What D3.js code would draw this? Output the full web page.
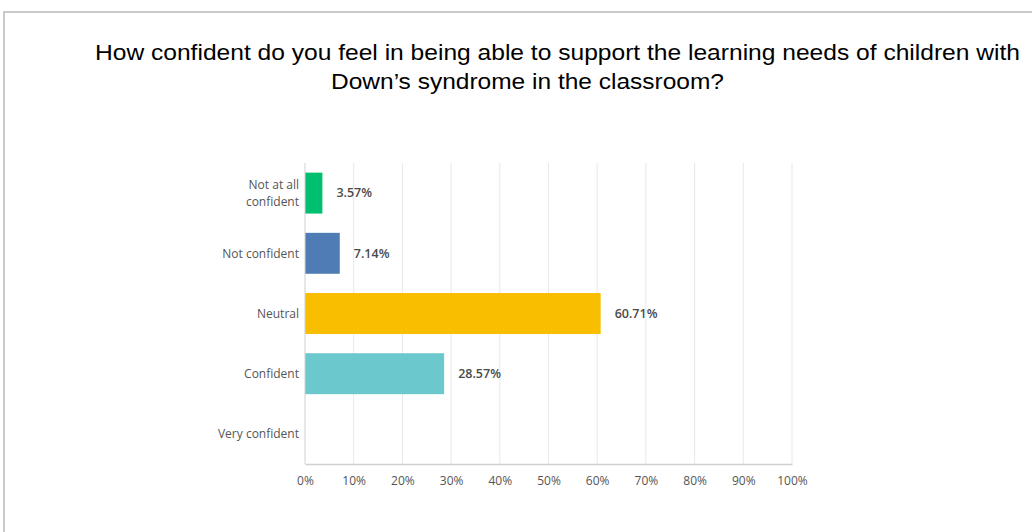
<!DOCTYPE html>
<html>
<head>
<meta charset="utf-8">
<script src="https://cdn.jsdelivr.net/npm/d3@7"></script>
<style>
  html, body { margin: 0; padding: 0; background: #fff; }
  svg { display: block; }
</style>
</head>
<body>
<svg id="chart" width="1032" height="532"></svg>
<script>
// Survey responses (percent of respondents)
const categories = ["Not at all confident", "Not confident", "Neutral", "Confident", "Very confident"];
const categoryLines = [["Not at all", "confident"], ["Not confident"], ["Neutral"], ["Confident"], ["Very confident"]];
const values = [3.57, 7.14, 60.71, 28.57, 0];
const barColors = ["#00bf6f", "#507cb6", "#f9be00", "#6bc8cd", "#d25f90"];
const tickValues = [0, 10, 20, 30, 40, 50, 60, 70, 80, 90, 100];
const titleLines = [
  "How confident do you feel in being able to support the learning needs of children with",
  "Down\u2019s syndrome in the classroom?"
];

const rows = categories.map((c, i) => ({ cat: c, lines: categoryLines[i], value: values[i], color: barColors[i] }));

const svg = d3.select("#chart");
const W = 1032, H = 532;

// outer panel border
svg.append("path")
  .attr("d", `M4,${H} L4,12 L${W},12`)
  .attr("fill", "none")
  .attr("stroke", "#c9c9c9")
  .attr("stroke-width", 2);

// title (two lines, stretched wide)
const titleFont = "'Liberation Sans', Arial, sans-serif";
const titleSpec = [
  { x: 95, y: 60, len: 925 },
  { x: 331, y: 89, len: 393 }
];
titleSpec.forEach((s, i) => {
  svg.append("text")
    .attr("x", s.x).attr("y", s.y)
    .attr("font-family", titleFont).attr("font-size", 22)
    .attr("textLength", s.len).attr("lengthAdjust", "spacingAndGlyphs")
    .attr("fill", "#000")
    .text(titleLines[i]);
});

const plotL = 305, plotR = 792, plotT = 163, plotB = 464;
const x = d3.scaleLinear().domain([0, 100]).range([plotL, plotR]);
const y = d3.scaleBand().domain(categories).range([plotT, plotB]).paddingInner(0.32).paddingOuter(0.16);

const labelFont = "'Open Sans', 'Noto Sans', sans-serif";

// vertical gridlines
svg.append("g")
  .selectAll("line")
  .data(tickValues.slice(1))
  .join("line")
  .attr("x1", d => x(d)).attr("x2", d => x(d))
  .attr("y1", plotT).attr("y2", plotB)
  .attr("stroke", "#e8e8e8").attr("stroke-width", 1);

// bars
svg.append("g")
  .selectAll("rect")
  .data(rows)
  .join("rect")
  .attr("x", x(0))
  .attr("y", d => y(d.cat))
  .attr("width", d => x(d.value) - x(0))
  .attr("height", y.bandwidth())
  .attr("fill", d => d.color);

// value labels
svg.append("g")
  .selectAll("text")
  .data(rows.filter(d => d.value > 0))
  .join("text")
  .attr("x", d => x(d.value) + 14)
  .attr("y", d => y(d.cat) + y.bandwidth() / 2)
  .attr("dy", "0.35em")
  .attr("font-family", labelFont).attr("font-size", 12.5).attr("font-weight", 600)
  .attr("fill", "#4a4a4a")
  .text(d => d.value.toFixed(2) + "%");

// left axis line
svg.append("line")
  .attr("x1", plotL).attr("x2", plotL)
  .attr("y1", plotT).attr("y2", plotB)
  .attr("stroke", "#d0d0d0").attr("stroke-width", 1);

// bottom axis
const xAxis = d3.axisBottom(x).tickValues(tickValues).tickSize(0).tickPadding(12).tickFormat(d => d + "%");
const gx = svg.append("g").attr("transform", `translate(0,${plotB})`).call(xAxis);
gx.select(".domain").attr("stroke", "#cfcfcf").attr("stroke-width", 1.5);
gx.selectAll("text")
  .attr("font-family", labelFont).attr("font-size", 12).attr("fill", "#555");

// category labels
svg.append("g")
  .selectAll("text")
  .data(rows)
  .join("text")
  .attr("x", plotL - 6)
  .attr("y", d => y(d.cat) + y.bandwidth() / 2)
  .attr("text-anchor", "end")
  .attr("font-family", labelFont).attr("font-size", 12).attr("fill", "#555")
  .each(function (d) {
    const t = d3.select(this);
    d.lines.forEach((ln, j) => {
      t.append("tspan")
        .attr("x", plotL - 6)
        .attr("dy", j === 0 ? ((0.35 - (d.lines.length - 1) * 0.7) + "em") : "1.4em")
        .text(ln);
    });
  });
</script>
</body>
</html>
